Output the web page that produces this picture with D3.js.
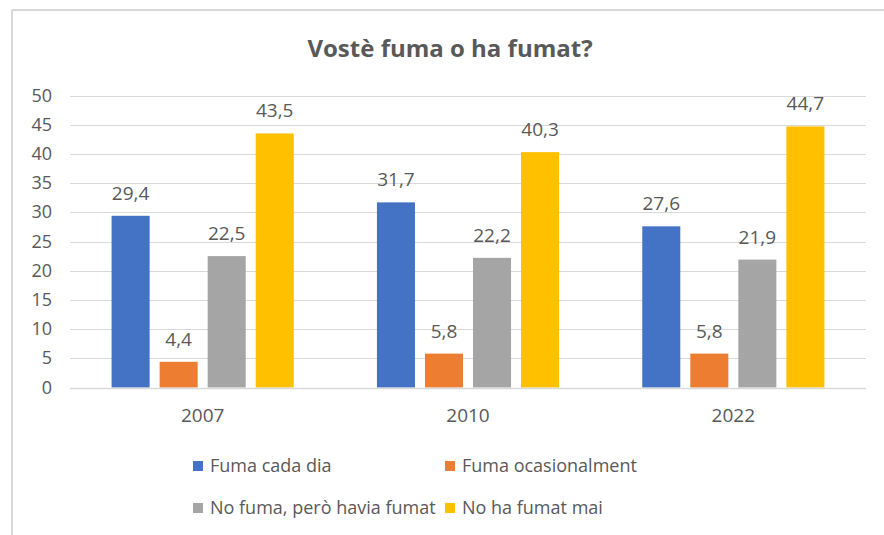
<!DOCTYPE html>
<html>
<head>
<meta charset="utf-8">
<script src="https://cdn.jsdelivr.net/npm/d3@7"></script>
<style>
  html, body { margin: 0; padding: 0; background: #fff; }
  svg { display: block; }
</style>
</head>
<body>
<svg id="chart" width="884" height="535"></svg>
<script>
const title = "Vostè fuma o ha fumat?";
const categories = ["2007", "2010", "2022"];
const seriesNames = ["Fuma cada dia", "Fuma ocasionalment", "No fuma, però havia fumat", "No ha fumat mai"];
const seriesColors = ["#4472C4", "#ED7D31", "#A5A5A5", "#FFC000"];
const fumaCadaDia = [29.4, 31.7, 27.6];
const fumaOcasionalment = [4.4, 5.8, 5.8];
const noFumaHaviaFumat = [22.5, 22.2, 21.9];
const noHaFumatMai = [43.5, 40.3, 44.7];
const yTicks = [0, 5, 10, 15, 20, 25, 30, 35, 40, 45, 50];

const seriesValues = [fumaCadaDia, fumaOcasionalment, noFumaHaviaFumat, noHaFumatMai];
const fmt = v => String(v).replace(".", ",");
const textColor = "#595959";
const font = "'Open Sans', sans-serif";

const svg = d3.select("#chart");

// frame (partial border like the reference crop)
svg.append("line").attr("x1", 12).attr("x2", 884).attr("y1", 10).attr("y2", 10)
  .attr("stroke", "#d9d9d9").attr("stroke-width", 2);
svg.append("line").attr("x1", 12).attr("x2", 12).attr("y1", 10).attr("y2", 535)
  .attr("stroke", "#d9d9d9").attr("stroke-width", 2);

// title
svg.append("text").attr("x", 450).attr("y", 57).attr("text-anchor", "middle")
  .attr("font-family", font).attr("font-weight", 700).attr("font-size", 24)
  .attr("fill", textColor).text(title);

const plotLeft = 70, plotRight = 866;
const y = d3.scaleLinear().domain([0, 50]).range([387.5, 95.5]);
const x0 = d3.scaleBand().domain(categories).range([plotLeft, plotRight]).padding(0);
const groupPad = 41.6;
const x1 = d3.scaleBand().domain(d3.range(seriesNames.length))
  .range([groupPad, x0.bandwidth() - groupPad]).paddingInner(10 / 48).paddingOuter(0);

// gridlines
svg.append("g").selectAll("line").data(yTicks).join("line")
  .attr("x1", plotLeft).attr("x2", plotRight)
  .attr("y1", d => Math.round(y(d)) + 0.5).attr("y2", d => Math.round(y(d)) + 0.5)
  .attr("stroke", "#d9d9d9").attr("stroke-width", 1);

// y tick labels
svg.append("g").selectAll("text").data(yTicks).join("text")
  .attr("x", 52).attr("y", d => y(d) + 6).attr("text-anchor", "end")
  .attr("font-family", font).attr("font-size", 18).attr("fill", textColor)
  .text(d => d);

// bars
const groups = svg.append("g").selectAll("g").data(categories).join("g")
  .attr("transform", c => `translate(${x0(c)},0)`);

groups.each(function(c, ci) {
  const g = d3.select(this);
  const data = seriesValues.map((vals, si) => ({ si, v: vals[ci] }));
  g.selectAll("rect").data(data).join("rect")
    .attr("x", d => x1(d.si)).attr("width", x1.bandwidth())
    .attr("y", d => y(d.v)).attr("height", d => y(0) - y(d.v))
    .attr("fill", d => seriesColors[d.si]);
  g.selectAll("text").data(data).join("text")
    .attr("x", d => x1(d.si) + x1.bandwidth() / 2)
    .attr("y", d => y(d.v) - 16)
    .attr("text-anchor", "middle")
    .attr("font-family", font).attr("font-size", 19).attr("fill", textColor)
    .text(d => fmt(d.v));
});

// axis line
svg.append("line").attr("x1", plotLeft).attr("x2", plotRight)
  .attr("y1", Math.round(y(0)) + 0.5).attr("y2", Math.round(y(0)) + 0.5)
  .attr("stroke", "#d9d9d9").attr("stroke-width", 1.5);

// category labels
svg.append("g").selectAll("text").data(categories).join("text")
  .attr("x", c => x0(c) + x0.bandwidth() / 2).attr("y", 422)
  .attr("text-anchor", "middle")
  .attr("font-family", font).attr("font-size", 19).attr("fill", textColor)
  .text(c => c);

// legend
const legendPos = [
  { x: 193, y: 461 }, { x: 445, y: 461 },
  { x: 193, y: 503 }, { x: 445, y: 503 }
];
const lg = svg.append("g").selectAll("g").data(seriesNames).join("g")
  .attr("transform", (d, i) => `translate(${legendPos[i].x},${legendPos[i].y})`);
lg.append("rect").attr("width", 10).attr("height", 10)
  .attr("fill", (d, i) => seriesColors[i]);
lg.append("text").attr("x", 17).attr("y", 10.5)
  .attr("font-family", font).attr("font-size", 18).attr("fill", textColor)
  .text(d => d);
</script>
</body>
</html>
